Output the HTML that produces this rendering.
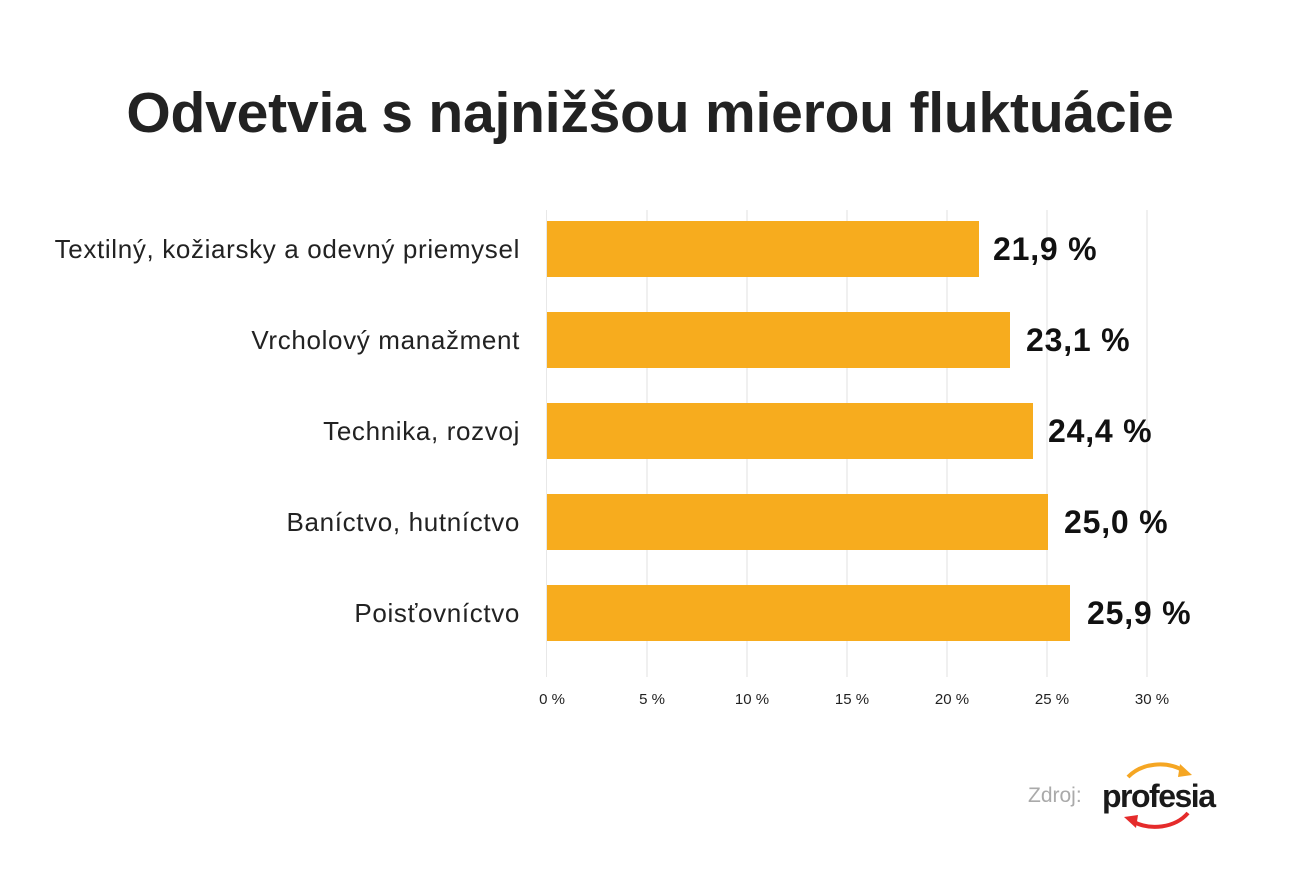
<!DOCTYPE html>
<html><head><meta charset="utf-8"><style>
body{margin:0;width:1300px;height:871px;background:#fff;font-family:"Liberation Sans",sans-serif;position:relative;overflow:hidden}
.t{position:absolute;left:0;width:1300px;top:80px;text-align:center;font-size:57px;font-weight:bold;color:#222;letter-spacing:-0.2px}
.g{position:absolute;top:210px;height:467px;width:2px;background:#f0f0f0}
.bar{position:absolute;left:547px;height:56px;background:#f7ac1e}
.lab{position:absolute;right:780px;font-size:26px;color:#222;text-align:right;white-space:nowrap;letter-spacing:0.65px}
.val{position:absolute;font-size:32px;font-weight:bold;color:#111;white-space:nowrap;letter-spacing:0.8px}
.tk{position:absolute;top:691px;width:60px;margin-left:-30px;text-align:center;font-size:15px;color:#222}
</style></head><body>
<div class="t">Odvetvia s najnižšou mierou fluktuácie</div>
<div class="g" style="left:546px;background:#e8e8e8;width:1px"></div>
<div class="g" style="left:646px"></div><div class="g" style="left:746px"></div><div class="g" style="left:846px"></div><div class="g" style="left:946px"></div><div class="g" style="left:1046px"></div><div class="g" style="left:1146px"></div>
<div class="bar" style="top:221px;width:432px"></div>
<div class="bar" style="top:312px;width:463px"></div>
<div class="bar" style="top:403px;width:486px"></div>
<div class="bar" style="top:494px;width:501px"></div>
<div class="bar" style="top:585px;width:523px"></div>
<div class="lab" style="top:234px">Textilný, kožiarsky a odevný priemysel</div>
<div class="lab" style="top:325px">Vrcholový manažment</div>
<div class="lab" style="top:416px">Technika, rozvoj</div>
<div class="lab" style="top:507px">Baníctvo, hutníctvo</div>
<div class="lab" style="top:598px">Poisťovníctvo</div>
<div class="val" style="left:993px;top:231px">21,9 %</div>
<div class="val" style="left:1026px;top:322px">23,1 %</div>
<div class="val" style="left:1048px;top:413px">24,4 %</div>
<div class="val" style="left:1064px;top:504px">25,0 %</div>
<div class="val" style="left:1087px;top:595px">25,9 %</div>
<div class="tk" style="left:552px">0 %</div><div class="tk" style="left:652px">5 %</div><div class="tk" style="left:752px">10 %</div><div class="tk" style="left:852px">15 %</div><div class="tk" style="left:952px">20 %</div><div class="tk" style="left:1052px">25 %</div><div class="tk" style="left:1152px">30 %</div>
<div style="position:absolute;left:1028px;top:784px;font-size:21px;color:#aaa;font-weight:300">Zdroj:</div>
<svg style="position:absolute;left:1100px;top:755px" width="120" height="80">
<path d="M28 22 A40 32 0 0 1 84 16" fill="none" stroke="#f5a623" stroke-width="4"/>
<polygon points="80,9 92,20 78,22" fill="#f5a623"/>
<path d="M88 58 A40 32 0 0 1 32 66" fill="none" stroke="#e52b2b" stroke-width="4"/>
<polygon points="36,73 24,62 38,60" fill="#e52b2b"/>
<text x="2" y="52" font-family="Liberation Sans,sans-serif" font-weight="bold" font-size="32" fill="#1a1a1a" letter-spacing="-1.5">profesia</text>
</svg>
</body></html>
